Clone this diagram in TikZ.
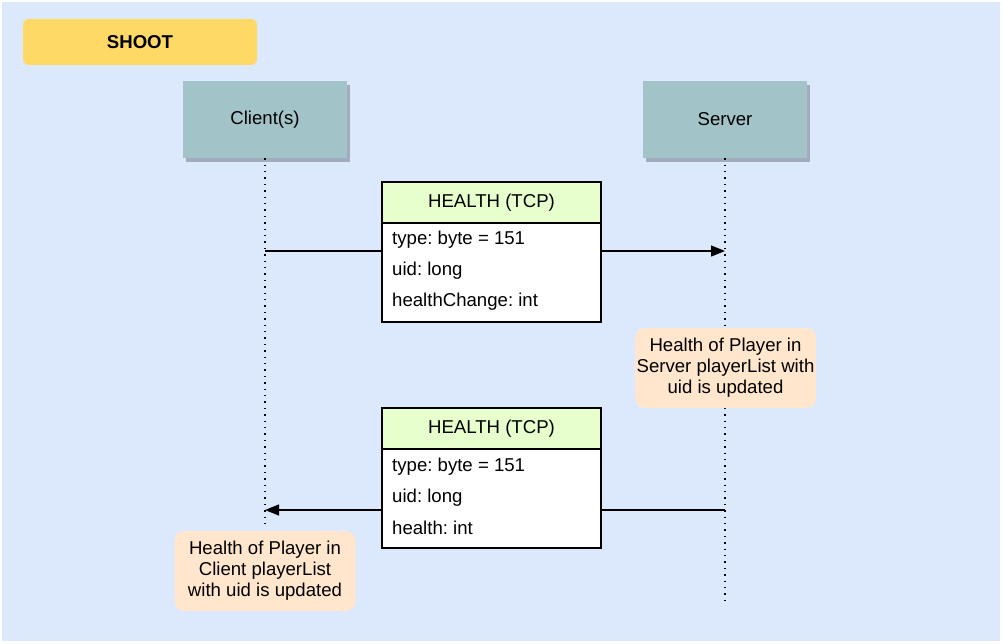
\documentclass[tikz,border=0pt]{standalone}
\usepackage{fontspec}
\setmainfont{Liberation Sans}
\usetikzlibrary{arrows.meta,shadows}
\definecolor{bgblue}{HTML}{DCE8FC}
\definecolor{titleyellow}{HTML}{FFD966}
\definecolor{actorteal}{HTML}{A2C4C9}
\definecolor{shadowgray}{HTML}{A3ABBE}
\definecolor{hdrgreen}{HTML}{E6FFCC}
\definecolor{noteorange}{HTML}{FFE6CC}
\frenchspacing
\begin{document}
\begin{tikzpicture}[x=1pt,y=-1pt,
  font=\fontsize{18.6}{21}\selectfont,
  titlebox/.style={fill=titleyellow, rounded corners=6pt, minimum width=234pt, minimum height=46pt, inner sep=0pt, font=\fontsize{18.6}{21}\selectfont\bfseries},
  actor/.style={fill=actorteal, minimum width=164pt, minimum height=77pt, inner sep=0pt,
    drop shadow={shadow xshift=3pt, shadow yshift=-4pt, fill=shadowgray, opacity=1}},
  lifeline/.style={line width=1.2pt, dash pattern=on 1.4pt off 5pt},
  msg/.style={line width=1.3pt, -{Triangle[length=14pt,width=11pt]}},
  hdr/.style={draw=black, line width=1.2pt, fill=hdrgreen, minimum width=219pt, minimum height=41pt, inner sep=0pt},
  body/.style={draw=black, line width=1.2pt, fill=white, minimum width=219pt, minimum height=99pt, inner sep=0pt},
  field/.style={anchor=west, inner sep=0pt},
  note/.style={fill=noteorange, rounded corners=10pt, minimum width=181pt, minimum height=80pt, inner sep=0pt, align=center}
]
\useasboundingbox (0,0) rectangle (1003,644);
\fill[bgblue] (2,2) rectangle (1000,641);

\node[titlebox] (title) at (140,42) {SHOOT};

\node[actor] (client) at (265,119.5) {Client(s)};
\node[actor] (server) at (725,119.5) {Server};

\coordinate (cend) at (265,527);
\coordinate (send) at (725,605);
\draw[lifeline] (client.south) -- (cend);
\draw[lifeline] (server.south) -- (send);

\coordinate (m1s) at (265,251);
\coordinate (m1e) at (725,251);
\draw[msg] (m1s) -- (m1e);
\coordinate (m2s) at (725,510);
\coordinate (m2e) at (265,510);
\draw[msg] (m2s) -- (m2e);

% message 1
\node[hdr] (h1) at (491.5,202.5) {HEALTH (TCP)};
\node[body] (b1) at (491.5,272.5) {};
\node[field] (f11) at (392,240) {type: byte = 151};
\node[field] (f12) at (392,271) {uid: long};
\node[field] (f13) at (392,302) {healthChange: int};

% message 2
\node[hdr] (h2) at (491.5,428.5) {HEALTH (TCP)};
\node[body] (b2) at (491.5,498.5) {};
\node[field] (f21) at (392,467) {type: byte = 151};
\node[field] (f22) at (392,498) {uid: long};
\node[field] (f23) at (392,528) {health: int};

% notes
\node[note] (n1) at (725.5,368) {Health of Player in\\Server playerList with\\uid is updated};
\node[note] (n2) at (265,571) {Health of Player in\\Client playerList\\with uid is updated};
\end{tikzpicture}
\end{document}
